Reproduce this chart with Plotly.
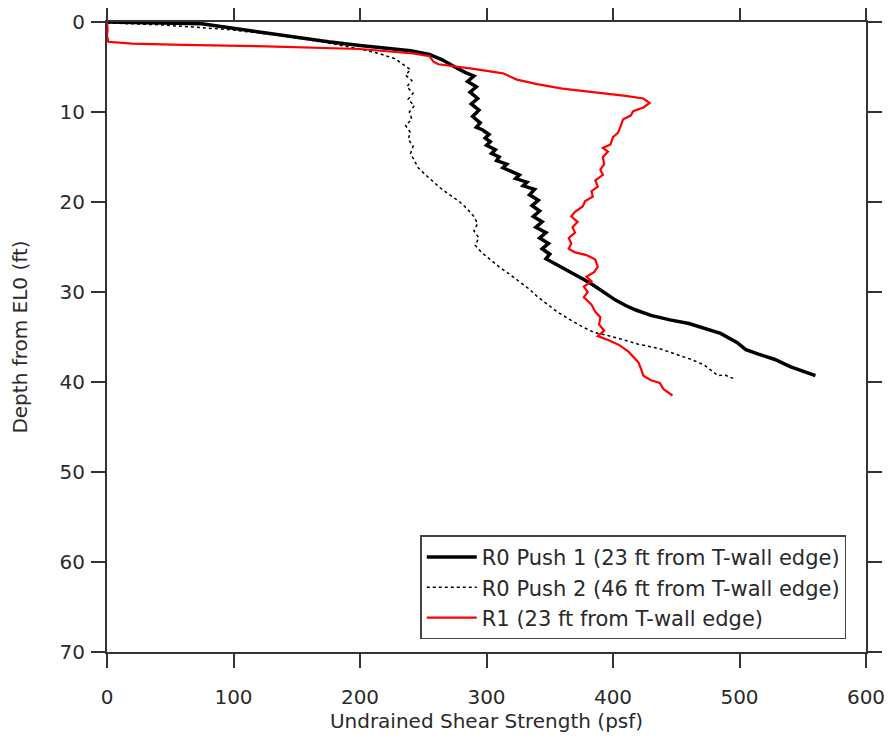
import plotly.graph_objects as go

# R0 Push 1 (solid black)
push1_su = [0, 30, 60, 75, 90, 110, 130, 153, 175, 200, 220, 240, 255, 265, 275, 283, 290, 285, 292, 287,
            293, 288, 294, 289, 295, 292, 297, 302, 299, 303, 300, 307, 304, 310, 308, 316, 313, 320, 326, 323,
            332, 329, 338, 334, 341, 336, 342, 337, 344, 339, 347, 342, 349, 344, 350, 347, 355, 360, 366, 370,
            375, 378, 384, 390, 396, 402, 410, 418, 430,
            445, 460, 472, 485, 498, 505, 515, 528, 540, 552, 560]
push1_depth = [0, 0.05, 0.1, 0.2, 0.5, 0.9, 1.3, 1.8, 2.2, 2.6, 2.9, 3.2, 3.6, 4.2, 5.0, 5.6, 6.0, 6.6, 7.2, 7.8,
               8.5, 9.1, 9.8, 10.5, 11.2, 11.7, 12.0, 12.5, 12.9, 13.3, 13.7, 14.2, 14.6, 15.0, 15.4, 15.8, 16.2, 16.6, 17.0, 17.4,
               17.8, 18.2, 18.6, 19.2, 19.8, 20.4, 21.0, 21.6, 22.2, 22.8, 23.4, 24.0, 24.6, 25.2, 25.8, 26.3, 26.9, 27.3, 27.7, 28.0,
               28.4, 28.7, 29.2, 29.8, 30.4, 30.9, 31.5, 32.0, 32.6,
               33.1, 33.5, 34.0, 34.6, 35.6, 36.4, 36.9, 37.5, 38.3, 38.9, 39.3]

# R0 Push 2 (dotted black)
push2_su = [0, 40, 73, 100, 137, 170, 200, 215, 228, 235, 240, 236, 241, 237, 242, 238, 243, 239, 241, 236,
            240, 238, 242, 240, 243, 246, 252, 258, 264, 271, 279, 285, 290, 293, 290, 294, 291, 296, 303, 310,
            318, 326, 334, 340, 348, 356, 365, 375, 385, 395, 408, 420, 437, 450, 462, 472, 478, 483, 488, 495]
push2_depth = [0.1, 0.3, 0.6, 0.9, 1.5, 2.2, 3.0, 3.5, 4.1, 4.8, 5.3, 5.9, 6.5, 7.2, 7.9, 8.6, 9.3, 10.0, 10.8, 11.5,
               12.3, 13.0, 13.8, 14.6, 15.4, 16.2, 17.0, 17.8, 18.5, 19.2, 20.0, 20.8, 21.6, 22.4, 23.2, 24.0, 24.8, 25.6, 26.4, 27.2,
               28.0, 28.9, 29.7, 30.5, 31.4, 32.2, 33.0, 33.8, 34.5, 34.8, 35.3, 35.8, 36.3, 36.9, 37.5, 38.1, 38.7, 39.3, 39.2, 39.6]

# R1 (red)
r1_su = [0, 0.5, 0, 1, 20, 60, 126, 200, 242, 255, 258, 262, 290, 313, 324, 340, 360, 387, 410, 424,
         429, 424, 416, 414, 408, 406, 404, 400, 398, 392, 396, 392, 393, 390, 392, 386, 388, 383, 384, 378,
         376, 370, 367, 372, 368, 370, 365, 367, 365, 370, 379, 386, 388, 385, 379, 383, 377, 380, 377, 383,
         386, 390, 389, 393, 388, 397, 405, 412, 416, 420, 422, 424, 430, 437, 440, 447]
r1_depth = [0, 0.8, 1.5, 2.2, 2.4, 2.55, 2.7, 3.0, 3.5, 3.8, 4.4, 4.7, 5.2, 5.7, 6.4, 6.9, 7.4, 7.8, 8.2, 8.5,
            9.0, 9.5, 9.9, 10.4, 10.8, 11.6, 12.3, 12.8, 13.6, 14.0, 14.4, 15.0, 15.8, 16.4, 17.0, 17.6, 18.3, 18.8, 19.4, 19.9,
            20.5, 21.1, 21.6, 22.2, 22.8, 23.4, 24.0, 24.6, 25.2, 25.6, 25.9, 26.4, 27.2, 27.8, 28.3, 28.8, 29.4, 30.0, 30.6, 31.4,
            32.2, 32.8, 33.6, 34.3, 34.9, 35.4, 35.9, 36.6, 37.2, 37.8, 38.5, 39.3, 39.8, 40.1, 40.8, 41.5]

x_ticks = [0, 100, 200, 300, 400, 500, 600]
y_ticks = [0, 10, 20, 30, 40, 50, 60, 70]

FONT = "DejaVu Sans"
TXT = "#2a2a2a"

fig = go.Figure()
fig.add_trace(go.Scatter(x=push1_su, y=push1_depth, mode="lines",
                         name="R0 Push 1 (23 ft from T-wall edge)",
                         line=dict(color="black", width=3.5)))
fig.add_trace(go.Scatter(x=push2_su, y=push2_depth, mode="lines",
                         name="R0 Push 2 (46 ft from T-wall edge)",
                         line=dict(color="black", width=1.5, dash="dot")))
fig.add_trace(go.Scatter(x=r1_su, y=r1_depth, mode="lines",
                         name="R1 (23 ft from T-wall edge)",
                         line=dict(color="#ff0000", width=2.2)))

axis_common = dict(showline=True, linecolor="#333333", linewidth=2, mirror="ticks",
                   ticks="outside", ticklen=14, tickwidth=2, tickcolor="#333333",
                   showgrid=False, zeroline=False, automargin=False,
                   tickfont=dict(family=FONT, size=20, color=TXT))

fig.update_layout(
    width=884, height=734,
    margin=dict(l=99, r=26, t=14, b=90),
    paper_bgcolor="white", plot_bgcolor="white",
    font=dict(family=FONT, color=TXT),
    xaxis=dict(range=[0, 600], tickvals=x_ticks, ticklabelstandoff=12,
               title=dict(text="Undrained Shear Strength (psf)", font=dict(family=FONT, size=20, color=TXT), standoff=6),
               **axis_common),
    yaxis=dict(range=[70, 0], tickvals=y_ticks, ticklabelstandoff=2,
               title=dict(text="Depth from EL0 (ft)", font=dict(family=FONT, size=20, color=TXT), standoff=30),
               **axis_common),
    legend=dict(x=0.974, y=0.02, xanchor="right", yanchor="bottom",
                bgcolor="white", bordercolor="#444444", borderwidth=1.5,
                font=dict(family=FONT, size=21, color=TXT),
                itemwidth=50, tracegroupgap=0),
    showlegend=True,
)

fig.write_html("out.html")
